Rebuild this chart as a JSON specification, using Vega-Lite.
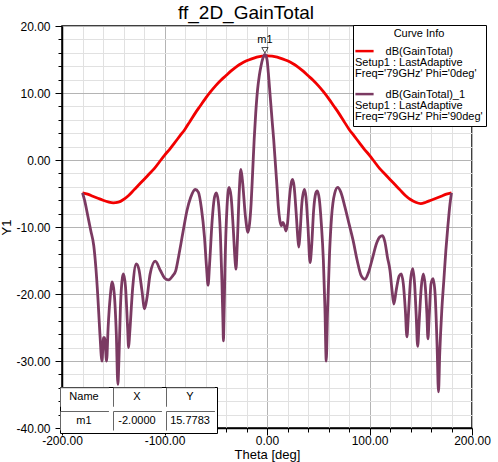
{
  "$schema": "https://vega.github.io/schema/vega-lite/v6.json",
  "width": 410,
  "height": 402,
  "autosize": "none",
  "padding": {"left": 62, "top": 26, "right": 26, "bottom": 34},
  "background": "white",
  "title": {
    "text": "ff_2D_GainTotal",
    "fontSize": 19,
    "fontWeight": "normal",
    "color": "black",
    "anchor": "middle",
    "frame": "group",
    "dx": -21,
    "offset": -3
  },
  "datasets": {
    "gain": [
      {"theta": -180, "gain": -4.9, "curve": "dB(GainTotal)"},
      {"theta": -175, "gain": -5.1, "curve": "dB(GainTotal)"},
      {"theta": -170, "gain": -5.4, "curve": "dB(GainTotal)"},
      {"theta": -165, "gain": -5.7, "curve": "dB(GainTotal)"},
      {"theta": -160, "gain": -6.0, "curve": "dB(GainTotal)"},
      {"theta": -155, "gain": -6.25, "curve": "dB(GainTotal)"},
      {"theta": -150, "gain": -6.4, "curve": "dB(GainTotal)"},
      {"theta": -145, "gain": -6.3, "curve": "dB(GainTotal)"},
      {"theta": -140, "gain": -5.9, "curve": "dB(GainTotal)"},
      {"theta": -135, "gain": -5.3, "curve": "dB(GainTotal)"},
      {"theta": -130, "gain": -4.5, "curve": "dB(GainTotal)"},
      {"theta": -125, "gain": -3.7, "curve": "dB(GainTotal)"},
      {"theta": -120, "gain": -2.9, "curve": "dB(GainTotal)"},
      {"theta": -115, "gain": -2.1, "curve": "dB(GainTotal)"},
      {"theta": -110, "gain": -1.3, "curve": "dB(GainTotal)"},
      {"theta": -105, "gain": -0.3, "curve": "dB(GainTotal)"},
      {"theta": -100, "gain": 0.7, "curve": "dB(GainTotal)"},
      {"theta": -95, "gain": 1.6, "curve": "dB(GainTotal)"},
      {"theta": -90, "gain": 2.6, "curve": "dB(GainTotal)"},
      {"theta": -85, "gain": 3.6, "curve": "dB(GainTotal)"},
      {"theta": -80, "gain": 4.6, "curve": "dB(GainTotal)"},
      {"theta": -75, "gain": 5.8, "curve": "dB(GainTotal)"},
      {"theta": -70, "gain": 7.0, "curve": "dB(GainTotal)"},
      {"theta": -65, "gain": 8.1, "curve": "dB(GainTotal)"},
      {"theta": -60, "gain": 9.2, "curve": "dB(GainTotal)"},
      {"theta": -55, "gain": 10.2, "curve": "dB(GainTotal)"},
      {"theta": -50, "gain": 11.1, "curve": "dB(GainTotal)"},
      {"theta": -45, "gain": 11.9, "curve": "dB(GainTotal)"},
      {"theta": -40, "gain": 12.6, "curve": "dB(GainTotal)"},
      {"theta": -35, "gain": 13.3, "curve": "dB(GainTotal)"},
      {"theta": -30, "gain": 13.9, "curve": "dB(GainTotal)"},
      {"theta": -25, "gain": 14.4, "curve": "dB(GainTotal)"},
      {"theta": -20, "gain": 14.8, "curve": "dB(GainTotal)"},
      {"theta": -15, "gain": 15.1, "curve": "dB(GainTotal)"},
      {"theta": -10, "gain": 15.35, "curve": "dB(GainTotal)"},
      {"theta": -5, "gain": 15.5, "curve": "dB(GainTotal)"},
      {"theta": 0, "gain": 15.55, "curve": "dB(GainTotal)"},
      {"theta": 5, "gain": 15.5, "curve": "dB(GainTotal)"},
      {"theta": 10, "gain": 15.35, "curve": "dB(GainTotal)"},
      {"theta": 15, "gain": 15.1, "curve": "dB(GainTotal)"},
      {"theta": 20, "gain": 14.8, "curve": "dB(GainTotal)"},
      {"theta": 25, "gain": 14.4, "curve": "dB(GainTotal)"},
      {"theta": 30, "gain": 13.9, "curve": "dB(GainTotal)"},
      {"theta": 35, "gain": 13.3, "curve": "dB(GainTotal)"},
      {"theta": 40, "gain": 12.6, "curve": "dB(GainTotal)"},
      {"theta": 45, "gain": 11.9, "curve": "dB(GainTotal)"},
      {"theta": 50, "gain": 11.1, "curve": "dB(GainTotal)"},
      {"theta": 55, "gain": 10.2, "curve": "dB(GainTotal)"},
      {"theta": 60, "gain": 9.2, "curve": "dB(GainTotal)"},
      {"theta": 65, "gain": 8.1, "curve": "dB(GainTotal)"},
      {"theta": 70, "gain": 7.0, "curve": "dB(GainTotal)"},
      {"theta": 75, "gain": 5.8, "curve": "dB(GainTotal)"},
      {"theta": 80, "gain": 4.6, "curve": "dB(GainTotal)"},
      {"theta": 85, "gain": 3.6, "curve": "dB(GainTotal)"},
      {"theta": 90, "gain": 2.6, "curve": "dB(GainTotal)"},
      {"theta": 95, "gain": 1.6, "curve": "dB(GainTotal)"},
      {"theta": 100, "gain": 0.7, "curve": "dB(GainTotal)"},
      {"theta": 105, "gain": -0.3, "curve": "dB(GainTotal)"},
      {"theta": 110, "gain": -1.3, "curve": "dB(GainTotal)"},
      {"theta": 115, "gain": -2.1, "curve": "dB(GainTotal)"},
      {"theta": 120, "gain": -2.9, "curve": "dB(GainTotal)"},
      {"theta": 125, "gain": -3.7, "curve": "dB(GainTotal)"},
      {"theta": 130, "gain": -4.5, "curve": "dB(GainTotal)"},
      {"theta": 135, "gain": -5.3, "curve": "dB(GainTotal)"},
      {"theta": 140, "gain": -5.9, "curve": "dB(GainTotal)"},
      {"theta": 145, "gain": -6.3, "curve": "dB(GainTotal)"},
      {"theta": 150, "gain": -6.5, "curve": "dB(GainTotal)"},
      {"theta": 155, "gain": -6.3, "curve": "dB(GainTotal)"},
      {"theta": 160, "gain": -6.0, "curve": "dB(GainTotal)"},
      {"theta": 165, "gain": -5.7, "curve": "dB(GainTotal)"},
      {"theta": 170, "gain": -5.4, "curve": "dB(GainTotal)"},
      {"theta": 175, "gain": -5.1, "curve": "dB(GainTotal)"},
      {"theta": 180, "gain": -4.9, "curve": "dB(GainTotal)"},

      {"theta": -180, "gain": -4.9, "curve": "dB(GainTotal)_1"},
      {"theta": -178, "gain": -6.0, "curve": "dB(GainTotal)_1"},
      {"theta": -175, "gain": -8.2, "curve": "dB(GainTotal)_1"},
      {"theta": -172, "gain": -10.5, "curve": "dB(GainTotal)_1"},
      {"theta": -169, "gain": -12.8, "curve": "dB(GainTotal)_1"},
      {"theta": -167, "gain": -16.0, "curve": "dB(GainTotal)_1"},
      {"theta": -165, "gain": -20.5, "curve": "dB(GainTotal)_1"},
      {"theta": -163, "gain": -26.0, "curve": "dB(GainTotal)_1"},
      {"theta": -161, "gain": -30.0, "curve": "dB(GainTotal)_1"},
      {"theta": -159.5, "gain": -26.5, "curve": "dB(GainTotal)_1"},
      {"theta": -158.5, "gain": -26.5, "curve": "dB(GainTotal)_1"},
      {"theta": -156.5, "gain": -30.0, "curve": "dB(GainTotal)_1"},
      {"theta": -155, "gain": -25.0, "curve": "dB(GainTotal)_1"},
      {"theta": -153, "gain": -20.5, "curve": "dB(GainTotal)_1"},
      {"theta": -151, "gain": -18.2, "curve": "dB(GainTotal)_1"},
      {"theta": -149, "gain": -20.0, "curve": "dB(GainTotal)_1"},
      {"theta": -147, "gain": -26.0, "curve": "dB(GainTotal)_1"},
      {"theta": -145.5, "gain": -33.5, "curve": "dB(GainTotal)_1"},
      {"theta": -144.5, "gain": -30.0, "curve": "dB(GainTotal)_1"},
      {"theta": -143, "gain": -22.0, "curve": "dB(GainTotal)_1"},
      {"theta": -141, "gain": -17.5, "curve": "dB(GainTotal)_1"},
      {"theta": -140, "gain": -17.0, "curve": "dB(GainTotal)_1"},
      {"theta": -138, "gain": -19.0, "curve": "dB(GainTotal)_1"},
      {"theta": -136, "gain": -25.0, "curve": "dB(GainTotal)_1"},
      {"theta": -135, "gain": -28.0, "curve": "dB(GainTotal)_1"},
      {"theta": -134, "gain": -26.0, "curve": "dB(GainTotal)_1"},
      {"theta": -131, "gain": -19.0, "curve": "dB(GainTotal)_1"},
      {"theta": -127.5, "gain": -15.5, "curve": "dB(GainTotal)_1"},
      {"theta": -125, "gain": -16.3, "curve": "dB(GainTotal)_1"},
      {"theta": -122, "gain": -19.5, "curve": "dB(GainTotal)_1"},
      {"theta": -119.5, "gain": -22.2, "curve": "dB(GainTotal)_1"},
      {"theta": -117, "gain": -20.5, "curve": "dB(GainTotal)_1"},
      {"theta": -114, "gain": -17.0, "curve": "dB(GainTotal)_1"},
      {"theta": -109, "gain": -15.1, "curve": "dB(GainTotal)_1"},
      {"theta": -104, "gain": -16.5, "curve": "dB(GainTotal)_1"},
      {"theta": -100, "gain": -17.6, "curve": "dB(GainTotal)_1"},
      {"theta": -96, "gain": -17.9, "curve": "dB(GainTotal)_1"},
      {"theta": -92, "gain": -17.3, "curve": "dB(GainTotal)_1"},
      {"theta": -89, "gain": -16.5, "curve": "dB(GainTotal)_1"},
      {"theta": -86, "gain": -14.2, "curve": "dB(GainTotal)_1"},
      {"theta": -82, "gain": -10.8, "curve": "dB(GainTotal)_1"},
      {"theta": -78, "gain": -7.5, "curve": "dB(GainTotal)_1"},
      {"theta": -74.5, "gain": -5.6, "curve": "dB(GainTotal)_1"},
      {"theta": -70, "gain": -4.4, "curve": "dB(GainTotal)_1"},
      {"theta": -67, "gain": -4.8, "curve": "dB(GainTotal)_1"},
      {"theta": -64, "gain": -7.2, "curve": "dB(GainTotal)_1"},
      {"theta": -61, "gain": -11.5, "curve": "dB(GainTotal)_1"},
      {"theta": -59, "gain": -16.0, "curve": "dB(GainTotal)_1"},
      {"theta": -57.5, "gain": -18.7, "curve": "dB(GainTotal)_1"},
      {"theta": -56, "gain": -15.5, "curve": "dB(GainTotal)_1"},
      {"theta": -53.5, "gain": -9.0, "curve": "dB(GainTotal)_1"},
      {"theta": -51.5, "gain": -5.8, "curve": "dB(GainTotal)_1"},
      {"theta": -49.5, "gain": -4.9, "curve": "dB(GainTotal)_1"},
      {"theta": -47.5, "gain": -6.2, "curve": "dB(GainTotal)_1"},
      {"theta": -45.5, "gain": -11.0, "curve": "dB(GainTotal)_1"},
      {"theta": -44, "gain": -18.0, "curve": "dB(GainTotal)_1"},
      {"theta": -43, "gain": -24.0, "curve": "dB(GainTotal)_1"},
      {"theta": -42.5, "gain": -27.0, "curve": "dB(GainTotal)_1"},
      {"theta": -42, "gain": -24.0, "curve": "dB(GainTotal)_1"},
      {"theta": -41, "gain": -16.0, "curve": "dB(GainTotal)_1"},
      {"theta": -39, "gain": -7.0, "curve": "dB(GainTotal)_1"},
      {"theta": -37, "gain": -4.1, "curve": "dB(GainTotal)_1"},
      {"theta": -35, "gain": -5.5, "curve": "dB(GainTotal)_1"},
      {"theta": -33, "gain": -10.0, "curve": "dB(GainTotal)_1"},
      {"theta": -31, "gain": -15.3, "curve": "dB(GainTotal)_1"},
      {"theta": -30.3, "gain": -16.3, "curve": "dB(GainTotal)_1"},
      {"theta": -29, "gain": -12.5, "curve": "dB(GainTotal)_1"},
      {"theta": -27, "gain": -4.5, "curve": "dB(GainTotal)_1"},
      {"theta": -25.5, "gain": -1.4, "curve": "dB(GainTotal)_1"},
      {"theta": -24, "gain": -3.0, "curve": "dB(GainTotal)_1"},
      {"theta": -21, "gain": -8.5, "curve": "dB(GainTotal)_1"},
      {"theta": -18.5, "gain": -10.8, "curve": "dB(GainTotal)_1"},
      {"theta": -17, "gain": -9.5, "curve": "dB(GainTotal)_1"},
      {"theta": -15.5, "gain": -6.5, "curve": "dB(GainTotal)_1"},
      {"theta": -14, "gain": -1.8, "curve": "dB(GainTotal)_1"},
      {"theta": -12.5, "gain": 3.1, "curve": "dB(GainTotal)_1"},
      {"theta": -11, "gain": 7.0, "curve": "dB(GainTotal)_1"},
      {"theta": -9.2, "gain": 10.5, "curve": "dB(GainTotal)_1"},
      {"theta": -7.5, "gain": 12.6, "curve": "dB(GainTotal)_1"},
      {"theta": -5.9, "gain": 14.0, "curve": "dB(GainTotal)_1"},
      {"theta": -4, "gain": 15.2, "curve": "dB(GainTotal)_1"},
      {"theta": -2, "gain": 15.7783, "curve": "dB(GainTotal)_1"},
      {"theta": 0, "gain": 15.0, "curve": "dB(GainTotal)_1"},
      {"theta": 1.3, "gain": 13.0, "curve": "dB(GainTotal)_1"},
      {"theta": 2.5, "gain": 10.7, "curve": "dB(GainTotal)_1"},
      {"theta": 3.9, "gain": 8.0, "curve": "dB(GainTotal)_1"},
      {"theta": 5.2, "gain": 5.5, "curve": "dB(GainTotal)_1"},
      {"theta": 6.5, "gain": 3.1, "curve": "dB(GainTotal)_1"},
      {"theta": 7.7, "gain": 0.5, "curve": "dB(GainTotal)_1"},
      {"theta": 8.8, "gain": -1.9, "curve": "dB(GainTotal)_1"},
      {"theta": 10, "gain": -4.5, "curve": "dB(GainTotal)_1"},
      {"theta": 11, "gain": -6.85, "curve": "dB(GainTotal)_1"},
      {"theta": 12.5, "gain": -9.0, "curve": "dB(GainTotal)_1"},
      {"theta": 14, "gain": -9.8, "curve": "dB(GainTotal)_1"},
      {"theta": 15.5, "gain": -9.3, "curve": "dB(GainTotal)_1"},
      {"theta": 17, "gain": -9.8, "curve": "dB(GainTotal)_1"},
      {"theta": 18.5, "gain": -10.6, "curve": "dB(GainTotal)_1"},
      {"theta": 20, "gain": -9.5, "curve": "dB(GainTotal)_1"},
      {"theta": 22, "gain": -5.5, "curve": "dB(GainTotal)_1"},
      {"theta": 24, "gain": -3.2, "curve": "dB(GainTotal)_1"},
      {"theta": 25, "gain": -2.9, "curve": "dB(GainTotal)_1"},
      {"theta": 26.5, "gain": -4.0, "curve": "dB(GainTotal)_1"},
      {"theta": 28.5, "gain": -8.0, "curve": "dB(GainTotal)_1"},
      {"theta": 30, "gain": -11.5, "curve": "dB(GainTotal)_1"},
      {"theta": 31, "gain": -13.0, "curve": "dB(GainTotal)_1"},
      {"theta": 32, "gain": -11.5, "curve": "dB(GainTotal)_1"},
      {"theta": 34, "gain": -6.5, "curve": "dB(GainTotal)_1"},
      {"theta": 36.5, "gain": -4.4, "curve": "dB(GainTotal)_1"},
      {"theta": 38, "gain": -5.5, "curve": "dB(GainTotal)_1"},
      {"theta": 40, "gain": -10.0, "curve": "dB(GainTotal)_1"},
      {"theta": 42, "gain": -15.3, "curve": "dB(GainTotal)_1"},
      {"theta": 43.5, "gain": -13.0, "curve": "dB(GainTotal)_1"},
      {"theta": 45.5, "gain": -7.5, "curve": "dB(GainTotal)_1"},
      {"theta": 47.5, "gain": -5.0, "curve": "dB(GainTotal)_1"},
      {"theta": 49, "gain": -4.6, "curve": "dB(GainTotal)_1"},
      {"theta": 51, "gain": -5.8, "curve": "dB(GainTotal)_1"},
      {"theta": 53, "gain": -9.5, "curve": "dB(GainTotal)_1"},
      {"theta": 55, "gain": -15.0, "curve": "dB(GainTotal)_1"},
      {"theta": 56.5, "gain": -22.0, "curve": "dB(GainTotal)_1"},
      {"theta": 57.8, "gain": -30.0, "curve": "dB(GainTotal)_1"},
      {"theta": 59, "gain": -23.0, "curve": "dB(GainTotal)_1"},
      {"theta": 61, "gain": -14.0, "curve": "dB(GainTotal)_1"},
      {"theta": 63, "gain": -8.5, "curve": "dB(GainTotal)_1"},
      {"theta": 66, "gain": -5.0, "curve": "dB(GainTotal)_1"},
      {"theta": 69, "gain": -4.1, "curve": "dB(GainTotal)_1"},
      {"theta": 72, "gain": -4.8, "curve": "dB(GainTotal)_1"},
      {"theta": 76, "gain": -7.0, "curve": "dB(GainTotal)_1"},
      {"theta": 80, "gain": -9.5, "curve": "dB(GainTotal)_1"},
      {"theta": 84, "gain": -12.0, "curve": "dB(GainTotal)_1"},
      {"theta": 88, "gain": -15.0, "curve": "dB(GainTotal)_1"},
      {"theta": 92, "gain": -17.3, "curve": "dB(GainTotal)_1"},
      {"theta": 95.5, "gain": -17.8, "curve": "dB(GainTotal)_1"},
      {"theta": 99, "gain": -16.8, "curve": "dB(GainTotal)_1"},
      {"theta": 103, "gain": -14.6, "curve": "dB(GainTotal)_1"},
      {"theta": 107, "gain": -12.4, "curve": "dB(GainTotal)_1"},
      {"theta": 110, "gain": -11.5, "curve": "dB(GainTotal)_1"},
      {"theta": 112.7, "gain": -11.3, "curve": "dB(GainTotal)_1"},
      {"theta": 115, "gain": -12.2, "curve": "dB(GainTotal)_1"},
      {"theta": 117.5, "gain": -14.5, "curve": "dB(GainTotal)_1"},
      {"theta": 120, "gain": -16.5, "curve": "dB(GainTotal)_1"},
      {"theta": 122, "gain": -19.5, "curve": "dB(GainTotal)_1"},
      {"theta": 123.8, "gain": -21.5, "curve": "dB(GainTotal)_1"},
      {"theta": 126, "gain": -19.5, "curve": "dB(GainTotal)_1"},
      {"theta": 129, "gain": -17.3, "curve": "dB(GainTotal)_1"},
      {"theta": 131, "gain": -17.0, "curve": "dB(GainTotal)_1"},
      {"theta": 133, "gain": -18.5, "curve": "dB(GainTotal)_1"},
      {"theta": 135, "gain": -22.5, "curve": "dB(GainTotal)_1"},
      {"theta": 136.5, "gain": -26.4, "curve": "dB(GainTotal)_1"},
      {"theta": 138, "gain": -23.0, "curve": "dB(GainTotal)_1"},
      {"theta": 140, "gain": -18.0, "curve": "dB(GainTotal)_1"},
      {"theta": 142.2, "gain": -16.2, "curve": "dB(GainTotal)_1"},
      {"theta": 144, "gain": -18.5, "curve": "dB(GainTotal)_1"},
      {"theta": 145.5, "gain": -23.0, "curve": "dB(GainTotal)_1"},
      {"theta": 147, "gain": -27.8, "curve": "dB(GainTotal)_1"},
      {"theta": 148.5, "gain": -24.0, "curve": "dB(GainTotal)_1"},
      {"theta": 150.5, "gain": -19.0, "curve": "dB(GainTotal)_1"},
      {"theta": 152.5, "gain": -17.0, "curve": "dB(GainTotal)_1"},
      {"theta": 154.5, "gain": -19.0, "curve": "dB(GainTotal)_1"},
      {"theta": 156, "gain": -23.0, "curve": "dB(GainTotal)_1"},
      {"theta": 157, "gain": -26.7, "curve": "dB(GainTotal)_1"},
      {"theta": 158.2, "gain": -23.5, "curve": "dB(GainTotal)_1"},
      {"theta": 160, "gain": -18.5, "curve": "dB(GainTotal)_1"},
      {"theta": 162, "gain": -17.7, "curve": "dB(GainTotal)_1"},
      {"theta": 164, "gain": -20.0, "curve": "dB(GainTotal)_1"},
      {"theta": 166, "gain": -28.0, "curve": "dB(GainTotal)_1"},
      {"theta": 167.3, "gain": -34.6, "curve": "dB(GainTotal)_1"},
      {"theta": 168.5, "gain": -29.0, "curve": "dB(GainTotal)_1"},
      {"theta": 170.5, "gain": -22.5, "curve": "dB(GainTotal)_1"},
      {"theta": 172.5, "gain": -18.0, "curve": "dB(GainTotal)_1"},
      {"theta": 174.5, "gain": -13.5, "curve": "dB(GainTotal)_1"},
      {"theta": 176.5, "gain": -9.8, "curve": "dB(GainTotal)_1"},
      {"theta": 178.5, "gain": -6.6, "curve": "dB(GainTotal)_1"},
      {"theta": 180, "gain": -4.9, "curve": "dB(GainTotal)_1"}
    ],
    "marker": [
      {"theta": -2, "gain": 15.7783, "name": "m1"}
    ],
    "table": [
      {"cell": "Name"},
      {"cell": "X"},
      {"cell": "Y"},
      {"cell": "m1"},
      {"cell": "-2.0000"},
      {"cell": "15.7783"}
    ]
  },
  "layer": [
    {
      "data": {"name": "gain"},
      "mark": {"type": "line", "strokeWidth": 2.8, "interpolate": "monotone"},
      "encoding": {
        "x": {
          "field": "theta",
          "type": "quantitative",
          "scale": {"domain": [-200, 200], "nice": false, "zero": false},
          "axis": {
            "title": "Theta [deg]",
            "grid": true,
            "values": [-200, -180, -160, -140, -120, -100, -80, -60, -40, -20, 0, 20, 40, 60, 80, 100, 120, 140, 160, 180, 200],
            "tickCount": 100,
            "labelExpr": "datum.value % 100 === 0 ? (datum.value < 0 ? '-' : '') + format(abs(datum.value), '.2f') : ''",
            "labelOverlap": false,
            "labelFlush": false,
            "labelPadding": 0,
            "titlePadding": 2,
            "tickSize": {"expr": "datum.value % 100 === 0 ? 7 : 4"},
            "gridColor": {"expr": "datum.value % 100 === 0 ? '#b4b4b4' : '#e1e1e1'"}
          }
        },
        "y": {
          "field": "gain",
          "type": "quantitative",
          "scale": {"domain": [-40, 20], "nice": false, "zero": false},
          "axis": {
            "title": "Y1",
            "grid": true,
            "values": [-40, -38, -36, -34, -32, -30, -28, -26, -24, -22, -20, -18, -16, -14, -12, -10, -8, -6, -4, -2, 0, 2, 4, 6, 8, 10, 12, 14, 16, 18, 20],
            "tickCount": 100,
            "labelExpr": "datum.value % 10 === 0 ? (datum.value < 0 ? '-' : '') + format(abs(datum.value), '.2f') : ''",
            "labelOverlap": false,
            "labelFlush": false,
            "labelPadding": 5,
            "titlePadding": 2,
            "tickSize": {"expr": "datum.value % 10 === 0 ? 7 : 4"},
            "gridColor": {"expr": "datum.value % 10 === 0 ? '#b4b4b4' : '#e1e1e1'"}
          }
        },
        "color": {
          "field": "curve",
          "type": "nominal",
          "scale": {"domain": ["dB(GainTotal)", "dB(GainTotal)_1"], "range": ["#f20000", "#7b3a62"]},
          "legend": {
            "orient": "none",
            "legendX": 291,
            "legendY": -1,
            "title": "Curve Info",
            "titleFontSize": 11,
            "titleFontWeight": "normal",
            "titleColor": "black",
            "titleAnchor": "middle",
            "titlePadding": -2,
            "labelFontSize": 11,
            "labelColor": "black",
            "labelBaseline": "top",
            "labelOffset": -18,
            "labelLimit": 220,
            "labelExpr": "datum.label === 'dB(GainTotal)' ? ['\u200b\u00a0\u00a0\u00a0\u00a0\u00a0\u00a0\u00a0\u00a0\u00a0\u00a0dB(GainTotal)', 'Setup1 : LastAdaptive', \"Freq='79GHz' Phi='0deg'\"] : ['\u200b\u00a0\u00a0\u00a0\u00a0\u00a0\u00a0\u00a0\u00a0\u00a0\u00a0dB(GainTotal)_1', 'Setup1 : LastAdaptive', \"Freq='79GHz' Phi='90deg'\"]",
            "symbolType": "M-1.3,0.8L1.3,0.8",
            "symbolSize": 196,
            "symbolStrokeWidth": 2.5,
            "rowPadding": 0,
            "padding": 3,
            "strokeColor": "black",
            "fillColor": "white"
          }
        }
      }
    },
    {
      "data": {"name": "marker"},
      "mark": {"type": "point", "shape": "triangle-down", "filled": false, "color": "black", "size": 40, "strokeWidth": 1, "yOffset": -4},
      "encoding": {
        "x": {"field": "theta", "type": "quantitative"},
        "y": {"field": "gain", "type": "quantitative"}
      }
    },
    {
      "data": {"name": "marker"},
      "mark": {"type": "text", "fontSize": 11, "color": "black", "dy": -14},
      "encoding": {
        "x": {"field": "theta", "type": "quantitative"},
        "y": {"field": "gain", "type": "quantitative"},
        "text": {"field": "name"}
      }
    },
    {
      "data": {"name": "table"},
      "mark": {"type": "point", "opacity": 0},
      "encoding": {
        "shape": {
          "field": "cell",
          "type": "nominal",
          "scale": {
            "domain": ["Name", "X", "Y", "m1", "-2.0000", "15.7783"],
            "range": ["M-1,-1L-1,1M-1,-1L4.1,-1", "M-1,-1L-1,1M-1,-1L4.1,-1", "M-1,-1L-1,1M-1,-1L4.1,-1", "M-1,-1L-1,1M-1,-1L4.1,-1", "M-1,-1L-1,1M-1,-1L4.1,-1", "M-1,-1L-1,1M-1,-1L4.1,-1"]
          },
          "legend": {
            "orient": "none",
            "legendX": -2,
            "legendY": 361,
            "title": null,
            "direction": "horizontal",
            "columns": 3,
            "columnPadding": 0,
            "rowPadding": 0,
            "padding": 0,
            "symbolSize": 361,
            "symbolStrokeWidth": 1,
            "symbolStrokeColor": "#666666",
            "symbolFillColor": "transparent",
            "symbolOpacity": 1,
            "labelFontSize": 11,
            "labelColor": "black",
            "labelAlign": "center",
            "labelBaseline": "middle",
            "labelOffset": 4,
            "strokeColor": "black",
            "fillColor": "white"
          }
        }
      }
    }
  ],
  "config": {
    "font": "Liberation Sans",
    "view": {"stroke": "black", "strokeWidth": 1.5},
    "style": {"guide-label": {"lineHeight": 11.3}},
    "axis": {
      "domainColor": "black",
      "domainWidth": 1.5,
      "tickColor": "black",
      "labelColor": "black",
      "labelFontSize": 12,
      "titleColor": "black",
      "titleFontSize": 13,
      "titleFontWeight": "normal"
    }
  }
}
